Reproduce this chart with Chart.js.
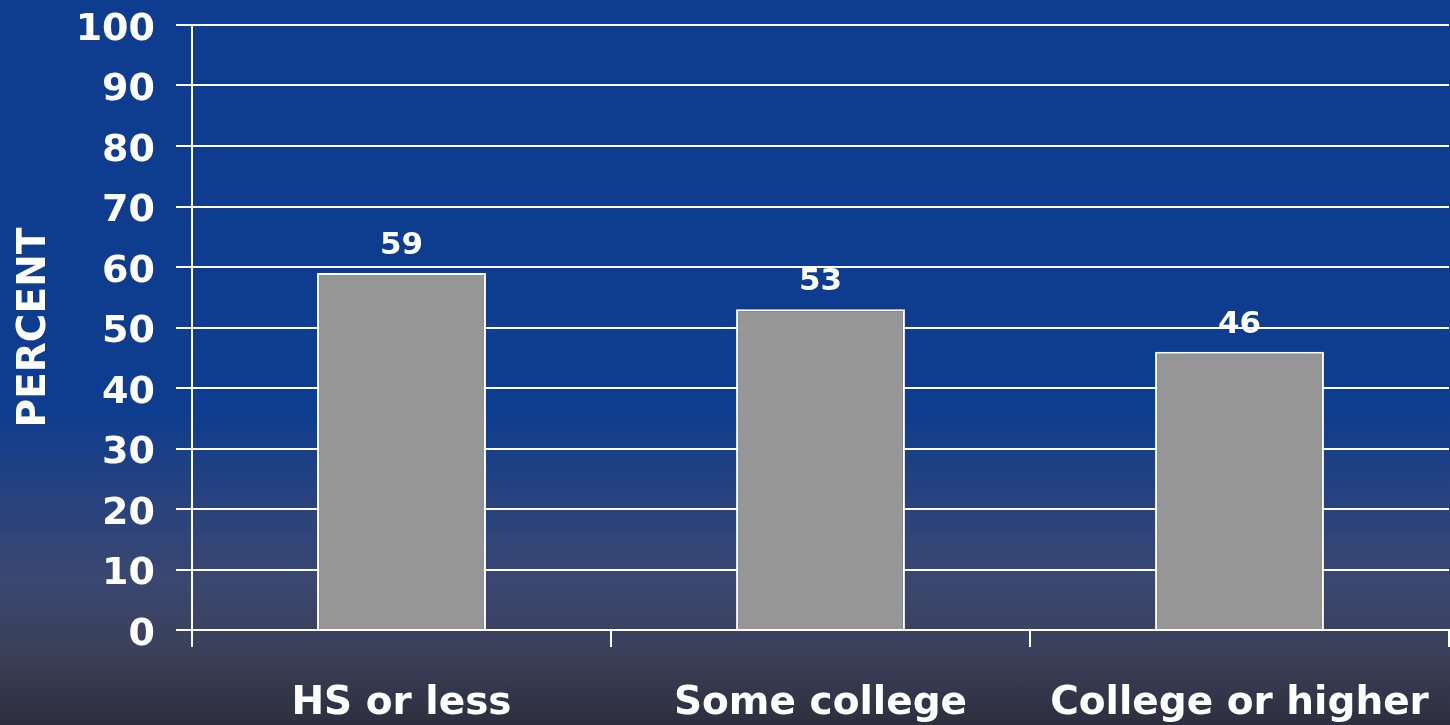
<!DOCTYPE html>
<html>
<head>
<meta charset="utf-8">
<script src="https://cdn.jsdelivr.net/npm/chart.js@4"></script>
<style>
  html, body { margin: 0; padding: 0; }
  body {
    width: 1450px; height: 725px; overflow: hidden;
    background: linear-gradient(to bottom, #0e3d8f 0%, #0e3d8f 57%, #26427f 68%, #3a4770 80%, #3b405a 90%, #2d2f3d 100%);
  }
  #wrap { position: relative; width: 1450px; height: 725px; }
</style>
</head>
<body>
<div id="wrap"><canvas id="education"></canvas></div>
<script>
const categories = ["HS or less", "Some college", "College or higher"];
const percents = [59, 53, 46];
const yTicks = [0, 10, 20, 30, 40, 50, 60, 70, 80, 90, 100];

const font = "'DejaVu Sans', Verdana, sans-serif";

// value labels over each bar
const barValues = {
  id: 'barValues',
  afterDatasetsDraw(chart) {
    const ctx = chart.ctx;
    ctx.save();
    ctx.fillStyle = '#ffffff';
    ctx.font = `bold 31px ${font}`;
    ctx.textAlign = 'center';
    ctx.textBaseline = 'alphabetic';
    chart.getDatasetMeta(0).data.forEach((bar, i) => {
      ctx.fillText(String(percents[i]), bar.x, bar.y - 19);
    });
    ctx.restore();
  }
};

const data = {
  labels: categories,
  datasets: [{
    data: percents,
    backgroundColor: '#969696',
    borderColor: '#ffffff',
    borderWidth: 2,
    categoryPercentage: 1,
    barPercentage: 0.403
  }]
};

const config = {
  type: 'bar',
  data: data,
  options: {
    responsive: true,
    maintainAspectRatio: false,
    animation: false,
    layout: { padding: { top: 25, right: 1, left: 0, bottom: 0 } },
    plugins: {
      legend: { display: false },
      tooltip: { enabled: false }
    },
    scales: {
      x: {
        afterFit(scale) {
          scale.height = 95;
          scale.paddingLeft = 0;
          scale.paddingRight = 0;
        },
        grid: {
          offset: true,
          drawOnChartArea: false,
          color: '#ffffff',
          lineWidth: 2,
          tickLength: 17
        },
        border: { color: '#ffffff', width: 2 },
        ticks: {
          color: '#ffffff',
          font: { family: font, size: 39, weight: 'bold' },
          padding: 33,
          maxRotation: 0
        }
      },
      y: {
        min: 0,
        max: 100,
        afterBuildTicks(scale) {
          scale.ticks = yTicks.map(v => ({ value: v }));
        },
        afterFit(scale) {
          scale.width = 192;
          scale.paddingTop = 0;
          scale.paddingBottom = 0;
        },
        grid: {
          color: '#ffffff',
          lineWidth: 2,
          tickLength: 16
        },
        border: { color: '#ffffff', width: 2 },
        ticks: {
          color: '#ffffff',
          font: { family: font, size: 38, weight: 'bold' },
          padding: 21,
          labelOffset: 5
        },
        title: {
          display: true,
          text: 'PERCENT',
          color: '#ffffff',
          font: { family: font, size: 39, weight: 'bold' },
          padding: { top: 11, bottom: 0 }
        }
      }
    }
  },
  plugins: [barValues]
};

new Chart(document.getElementById('education'), config);
</script>
</body>
</html>
